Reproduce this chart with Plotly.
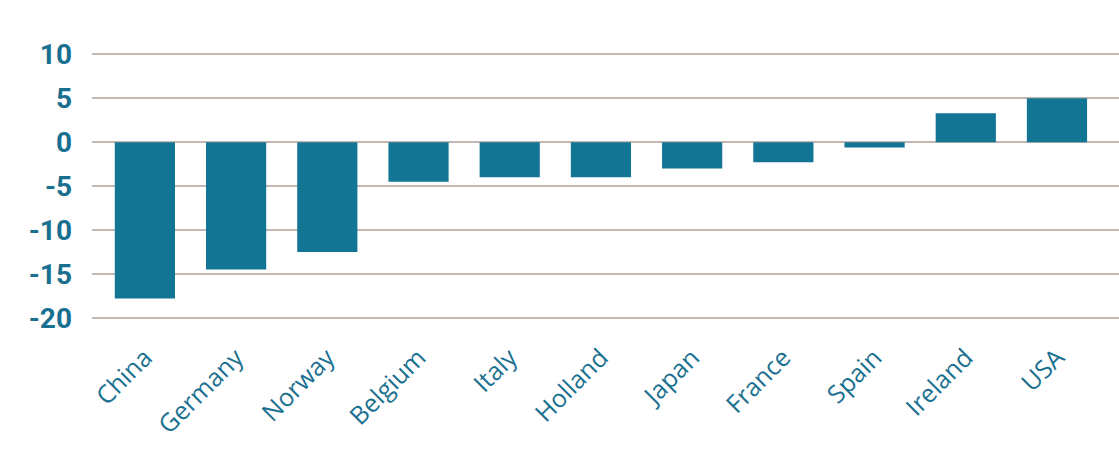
import plotly.graph_objects as go

countries = ["China", "Germany", "Norway", "Belgium", "Italy", "Holland",
             "Japan", "France", "Spain", "Ireland", "USA"]
values = [-17.8, -14.5, -12.5, -4.5, -4.0, -4.0, -3.0, -2.3, -0.6, 3.3, 5.0]
y_ticks = [10, 5, 0, -5, -10, -15, -20]

bar_color = "#137594"
text_color = "#1a7090"
grid_color = "#c4b6b0"

fig = go.Figure(go.Bar(x=countries, y=values, marker_color=bar_color,
                       marker_line_width=0, width=0.66))

fig.update_layout(
    width=1119, height=453,
    margin=dict(l=92, r=0, t=28, b=122),
    paper_bgcolor="white", plot_bgcolor="white",
    showlegend=False,
    bargap=0.34,
    xaxis=dict(range=[-0.58, 10.68], tickangle=-45, showgrid=False,
               showline=False, zeroline=False,
               tickfont=dict(family="Open Sans", size=25, color=text_color),
               ticklabelstandoff=6),
    yaxis=dict(range=[-21.5, 13], tickvals=y_ticks, ticktext=[str(v) for v in y_ticks],
               showgrid=True, gridcolor=grid_color, gridwidth=1.5,
               zeroline=True, zerolinecolor=grid_color, zerolinewidth=1.5,
               showline=False,
               tickfont=dict(family="Roboto", size=28, color=text_color, weight="bold"),
               ticklabelstandoff=19),
)

fig.write_html("out.html")
